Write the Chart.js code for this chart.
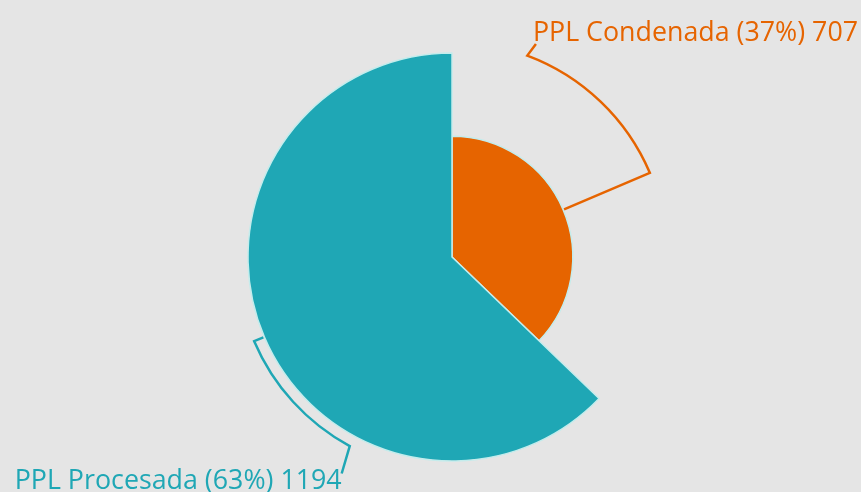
<!DOCTYPE html>
<html>
<head>
<meta charset="utf-8">
<script src="https://cdn.jsdelivr.net/npm/chart.js@4.4.0/dist/chart.umd.min.js"></script>
<style>
  html, body { margin: 0; padding: 0; background: #e5e5e5; overflow: hidden; }
  #wrap { width: 861px; height: 492px; position: relative; }
</style>
</head>
<body>
<div id="wrap"><canvas id="pie"></canvas></div>
<script>
const labels = ["PPL Condenada", "PPL Procesada"];
const values = [707, 1194];
const colors = ["#e66400", "#1fa7b5"];

const total = values.reduce((a, b) => a + b, 0);
const sliceAngles = values.map((v) => (v / total) * 360);
const percents = values.map((v) => Math.round((v / total) * 100));

// where each leader line bends to (degrees clockwise from top) and how far its tail goes
const leaderAngles = [20.5, 208.4];
const tailAngles = [21.5, 207];
const tailRadii = [229, 243];
const leaderRadius = 215;

const rad = (d) => (d - 90) * Math.PI / 180;

const leaderLines = {
  id: "leaderLines",
  afterDatasetsDraw(chart) {
    const ctx = chart.ctx;
    const meta = chart.getDatasetMeta(0);
    meta.data.forEach((arc, i) => {
      const { x, y, startAngle, endAngle, outerRadius } =
        arc.getProps(["x", "y", "startAngle", "endAngle", "outerRadius"], true);
      const mid = (startAngle + endAngle) / 2;
      const bend = rad(leaderAngles[i]);
      const tailA = rad(tailAngles[i]);
      const tx = x + tailRadii[i] * Math.cos(tailA);
      const ty = y + tailRadii[i] * Math.sin(tailA);

      ctx.save();
      ctx.strokeStyle = colors[i];
      ctx.lineWidth = 2.5;
      ctx.beginPath();
      ctx.moveTo(x + (outerRadius + 1) * Math.cos(mid), y + (outerRadius + 1) * Math.sin(mid));
      ctx.lineTo(x + leaderRadius * Math.cos(mid), y + leaderRadius * Math.sin(mid));
      ctx.arc(x, y, leaderRadius, mid, bend, bend < mid);
      ctx.lineTo(tx, ty);
      ctx.stroke();

      ctx.fillStyle = colors[i];
      ctx.font = "26.8px 'Open Sans'";
      const text = `${labels[i]} (${percents[i]}%) ${values[i]}`;
      ctx.textBaseline = "alphabetic";
      if (ty < y) {
        ctx.textAlign = "left";
        ctx.fillText(text, tx - 3, ty - 3);
      } else {
        ctx.textAlign = "right";
        ctx.fillText(text, tx, ty + 15);
      }
      ctx.restore();
    });
  }
};

new Chart(document.getElementById("pie"), {
  type: "polarArea",
  data: {
    labels: labels,
    datasets: [
      {
        data: values,
        angle: sliceAngles,
        backgroundColor: colors,
        borderColor: "#c4ecec",
        borderWidth: 1.5,
      },
    ],
  },
  options: {
    responsive: true,
    maintainAspectRatio: false,
    animation: false,
    layout: { padding: { left: 100, right: 57, top: 53, bottom: 31 } },
    plugins: {
      legend: { display: false },
      tooltip: { enabled: false },
    },
    scales: {
      r: { display: false, min: 0, max: Math.max(...values) },
    },
  },
  plugins: [leaderLines],
});
</script>
</body>
</html>
